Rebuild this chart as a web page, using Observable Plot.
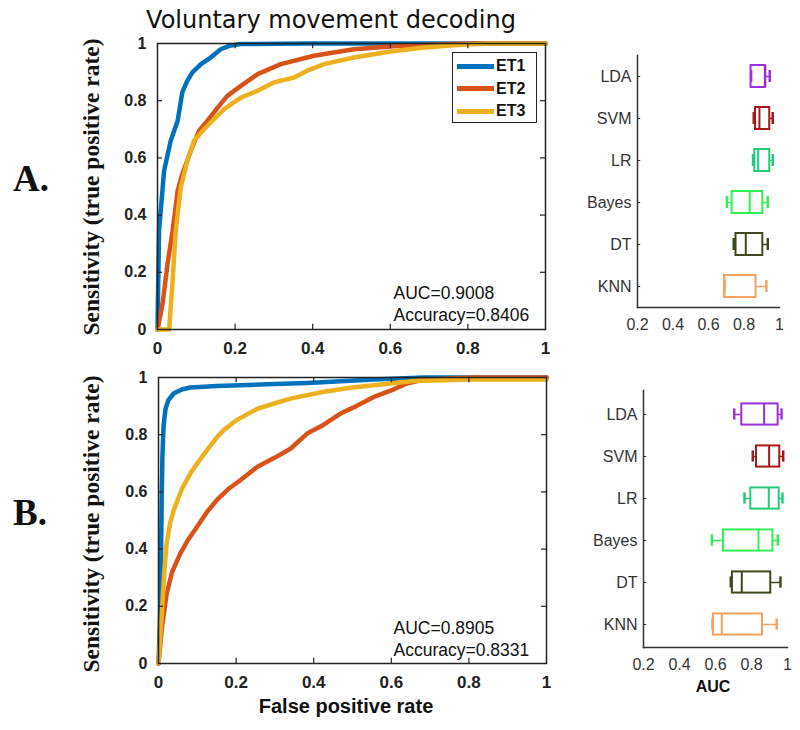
<!DOCTYPE html>
<html><head><meta charset="utf-8">
<script src="https://cdn.jsdelivr.net/npm/d3@7"></script>
<script src="https://cdn.jsdelivr.net/npm/@observablehq/plot@0.6"></script>
<style>
body{margin:0;background:#fff;}
#fig{position:relative;width:800px;height:730px;overflow:hidden;background:#fff;font-family:"Liberation Sans",Arial,sans-serif;color:#111;}
.pl{position:absolute;}
.t{position:absolute;white-space:nowrap;line-height:1;}
</style></head><body><div id="fig"></div>
<script>
// ---------- data ----------
const series = ["ET1", "ET2", "ET3"];
const seriesColors = ["#0072BD", "#D95319", "#EDB120"];
const rocTicks = [0, 0.2, 0.4, 0.6, 0.8, 1];
const aucTicks = [0.2, 0.4, 0.6, 0.8, 1];

// Panel A ROC curves [false positive rate, true positive rate]
const aET1 = [[0,0],[0.004,0.346],[0.017,0.555],[0.034,0.66],[0.043,0.695],[0.052,0.73],[0.058,0.78],[0.064,0.83],[0.077,0.87],[0.09,0.899],[0.112,0.928],[0.137,0.951],[0.163,0.98],[0.185,0.992],[0.215,0.998],[0.386,1],[1,1]];
const aET2 = [[0,0],[0.013,0.09],[0.026,0.23],[0.039,0.346],[0.052,0.485],[0.064,0.544],[0.086,0.625],[0.107,0.695],[0.129,0.73],[0.155,0.776],[0.18,0.817],[0.215,0.852],[0.258,0.893],[0.318,0.928],[0.403,0.957],[0.506,0.98],[0.609,0.99],[0.7,0.996],[0.815,1],[1,1]];
const aET3 = [[0,0],[0.03,0],[0.039,0.171],[0.047,0.346],[0.06,0.497],[0.077,0.59],[0.094,0.66],[0.12,0.70],[0.146,0.736],[0.172,0.771],[0.215,0.811],[0.258,0.835],[0.3,0.864],[0.352,0.881],[0.386,0.905],[0.429,0.928],[0.506,0.951],[0.601,0.972],[0.687,0.986],[0.773,0.995],[0.858,1],[1,1]];
// Panel B ROC curves
const bET1 = [[0,0],[0.004,0.15],[0.006,0.3],[0.008,0.55],[0.01,0.72],[0.013,0.83],[0.018,0.89],[0.025,0.92],[0.039,0.944],[0.06,0.958],[0.082,0.965],[0.15,0.97],[0.21,0.973],[0.3,0.977],[0.383,0.981],[0.47,0.987],[0.555,0.993],[0.684,1],[1,1]];
const bET2 = [[0,0],[0.005,0.07],[0.009,0.127],[0.021,0.244],[0.035,0.32],[0.056,0.384],[0.075,0.43],[0.099,0.477],[0.125,0.53],[0.15,0.571],[0.18,0.61],[0.21,0.64],[0.254,0.687],[0.3,0.72],[0.34,0.751],[0.383,0.804],[0.42,0.83],[0.469,0.874],[0.51,0.9],[0.555,0.932],[0.6,0.955],[0.64,0.979],[0.684,0.993],[0.813,1],[1,1]];
const bET3 = [[0,0],[0.005,0.1],[0.009,0.186],[0.015,0.32],[0.021,0.42],[0.03,0.49],[0.039,0.535],[0.06,0.61],[0.082,0.664],[0.1,0.7],[0.125,0.746],[0.15,0.79],[0.168,0.816],[0.2,0.85],[0.254,0.89],[0.3,0.91],[0.34,0.926],[0.426,0.95],[0.5,0.965],[0.555,0.973],[0.658,0.988],[0.813,0.993],[1,0.993]];

const aAUC = "0.9008", aAcc = "0.8406";
const bAUC = "0.8905", bAcc = "0.8331";

// Classifier AUC box plots
const classifiers = ["LDA", "SVM", "LR", "Bayes", "DT", "KNN"];
const boxColors = ["#9b30d9", "#a31818", "#22cc77", "#33ee55", "#3c4a1c", "#f4a460"];
const aMin = [0.84, 0.855, 0.851, 0.704, 0.742, 0.69];
const aQ1  = [0.84, 0.865, 0.861, 0.733, 0.755, 0.69];
const aMed = [0.92, 0.887, 0.88, 0.832, 0.81, 0.69];
const aQ3  = [0.92, 0.945, 0.945, 0.906, 0.906, 0.868];
const aMax = [0.945, 0.962, 0.962, 0.934, 0.934, 0.926];
const bMin = [0.704, 0.807, 0.761, 0.580, 0.685, 0.583];
const bQ1  = [0.746, 0.828, 0.796, 0.644, 0.694, 0.589];
const bMed = [0.870, 0.898, 0.896, 0.839, 0.746, 0.635];
const bQ3  = [0.948, 0.957, 0.954, 0.919, 0.907, 0.861];
const bMax = [0.967, 0.976, 0.972, 0.946, 0.961, 0.94];

// ---------- helpers ----------
const fig = document.getElementById("fig");
const fmt = d => String(+(+d).toFixed(1));
const inner = rocTicks.slice(1, -1);

function rocRows(curves) {
  return curves.flatMap((pts, i) => pts.map(([fpr, tpr]) => ({series: series[i], fpr, tpr})));
}
function boxRows(mins, q1s, meds, q3s, maxs) {
  return classifiers.map((name, i) => ({name, min: mins[i], q1: q1s[i], med: meds[i], q3: q3s[i], max: maxs[i]}));
}
function place(el, left, top) {
  const d = document.createElement("div");
  d.className = "pl"; d.style.left = left + "px"; d.style.top = top + "px";
  d.appendChild(el); fig.appendChild(d); return d;
}
function label(text, o) {
  const d = document.createElement("div");
  d.className = "t"; d.textContent = text;
  d.style.fontFamily = o.family || '"Liberation Sans", Arial, sans-serif';
  d.style.fontSize = o.size + "px";
  d.style.fontWeight = o.weight || "normal";
  d.style.top = (o.baseline - (o.asc || 0.846) * o.size) + "px";
  d.style.left = o.x + "px";
  if (o.anchor === "middle") d.style.transform = "translateX(-50%)";
  fig.appendChild(d); return d;
}
function vlabel(text, cx, cy, size) {
  const d = document.createElement("div");
  d.className = "t"; d.textContent = text;
  d.style.fontFamily = '"Liberation Serif", "Times New Roman", serif';
  d.style.fontWeight = "bold"; d.style.fontSize = size + "px";
  d.style.left = cx + "px"; d.style.top = cy + "px";
  d.style.transform = "translate(-50%,-50%) rotate(-90deg)";
  fig.appendChild(d);
}

function rocChart(curves, o) {
  const rows = rocRows(curves);
  return Plot.plot({
    width: 560, height: o.height,
    marginLeft: o.mL, marginRight: o.mR, marginTop: o.mT, marginBottom: o.height - o.bottom,
    x: {domain: [0, 1]}, y: {domain: [0, 1]},
    color: {domain: series, range: seriesColors},
    style: {background: "transparent", fontFamily: '"Liberation Sans", Arial, sans-serif', color: "#222", overflow: "visible"},
    marks: [
      Plot.line(rows, {x: "fpr", y: "tpr", z: "series", stroke: "series", strokeWidth: 4.5, strokeLinejoin: "round"}),
      Plot.frame({stroke: "#222", strokeWidth: 1.5}),
      Plot.ruleY(inner, {y: d => d, x1: 0, x2: 0.013, stroke: "#222", strokeWidth: 1.2}),
      Plot.ruleY(inner, {y: d => d, x1: 0.987, x2: 1, stroke: "#222", strokeWidth: 1.2}),
      Plot.ruleX(inner, {x: d => d, y1: 0, y2: 0.018, stroke: "#222", strokeWidth: 1.2}),
      Plot.ruleX(inner, {x: d => d, y1: 0.982, y2: 1, stroke: "#222", strokeWidth: 1.2}),
      Plot.text([`AUC=${o.auc}\nAccuracy=${o.acc}`], {text: d => d, frameAnchor: "bottom-left", dx: o.noteDx, dy: o.noteDy,
        textAnchor: "start", lineAnchor: "bottom", lineHeight: 1.25, fontSize: 17.5, fill: "#111"}),
      Plot.axisX({ticks: rocTicks, tickSize: 0, tickPadding: 12, tickFormat: fmt, fontSize: 17, fontWeight: "bold", label: null}),
      Plot.axisY({ticks: rocTicks, tickSize: 0, tickPadding: 11, tickFormat: fmt, fontSize: 16, fontWeight: "bold", label: null})
    ]
  });
}

function boxChart(rows, o) {
  const bw = (o.bottom - o.mT) / classifiers.length;
  const ins = (bw - 22) / 2, capIns = (bw - 12) / 2;
  return Plot.plot({
    width: 240, height: o.height,
    marginLeft: o.mL, marginRight: o.mR, marginTop: o.mT, marginBottom: o.height - o.bottom,
    x: {domain: [0.2, 1]}, y: {domain: classifiers, padding: 0},
    color: {domain: classifiers, range: boxColors},
    style: {background: "transparent", fontFamily: '"Liberation Sans", Arial, sans-serif', color: "#222", overflow: "visible"},
    marks: [
      Plot.ruleY(rows, {y: "name", x1: "min", x2: "q1", stroke: "name", strokeWidth: 1.5}),
      Plot.ruleY(rows, {y: "name", x1: "q3", x2: "max", stroke: "name", strokeWidth: 1.5}),
      Plot.barX(rows, {y: "name", x1: "q1", x2: "q3", fill: "none", stroke: "name", strokeWidth: 2, insetTop: ins, insetBottom: ins}),
      Plot.tickX(rows, {y: "name", x: "med", stroke: "name", strokeWidth: 2, insetTop: ins, insetBottom: ins}),
      Plot.tickX(rows, {y: "name", x: "min", stroke: "name", strokeWidth: 2.5, insetTop: capIns, insetBottom: capIns}),
      Plot.tickX(rows, {y: "name", x: "max", stroke: "name", strokeWidth: 2.5, insetTop: capIns, insetBottom: capIns}),
      Plot.frame({anchor: "left", stroke: "#333", strokeWidth: 1.5}),
      Plot.frame({anchor: "bottom", stroke: "#333", strokeWidth: 1.5}),
      Plot.ruleY(classifiers, {y: d => d, x1: 0.2, x2: 0.218, stroke: "#333"}),
      Plot.ruleX(aucTicks.slice(1, -1), {x: d => d, y: () => classifiers[classifiers.length - 1], insetTop: bw - 4, stroke: "#333"}),
      Plot.axisX({ticks: aucTicks, tickSize: 0, tickPadding: 11, tickFormat: fmt, fontSize: 16, fill: "#333", label: null}),
      Plot.axisY({tickSize: 0, tickPadding: 6, fontSize: 16, fill: "#333", label: null})
    ]
  });
}

// ---------- charts ----------
place(rocChart([aET1, aET2, aET3], {height: 360, mL: 157, mR: 15, mT: 43, bottom: 329, auc: aAUC, acc: aAcc, noteDx: 236, noteDy: -9}), 0, 0);
place(rocChart([bET1, bET2, bET3], {height: 340, mL: 158, mR: 14, mT: 17, bottom: 303, auc: bAUC, acc: bAcc, noteDx: 235, noteDy: -8}), 0, 360);
place(boxChart(boxRows(aMin, aQ1, aMed, aQ3, aMax), {height: 345, mL: 77, mR: 21, mT: 55, bottom: 307}), 560, 0);
place(boxChart(boxRows(bMin, bQ1, bMed, bQ3, bMax), {height: 340, mL: 83, mR: 13, mT: 30, bottom: 287}), 560, 360);

// legend (panel A)
const lg = document.createElement("div");
lg.style.cssText = "position:absolute;left:452px;top:52px;width:83px;height:69px;border:1.5px solid #222;background:#fff;";
series.forEach((s, i) => {
  const row = document.createElement("div");
  row.style.cssText = `position:absolute;left:4px;top:${4 + i * 22.5}px;height:18px;display:flex;align-items:center;`;
  const sw = document.createElement("div");
  sw.style.cssText = `width:37px;height:5px;background:${seriesColors[i]};margin-right:2px;`;
  const tx = document.createElement("span");
  tx.textContent = s;
  tx.style.cssText = 'font:bold 16px "Liberation Sans",Arial,sans-serif;color:#111;';
  row.appendChild(sw); row.appendChild(tx); lg.appendChild(row);
});
fig.appendChild(lg);

// titles and labels
label("Voluntary movement decoding", {x: 331, baseline: 28, size: 24, family: '"DejaVu Sans", sans-serif', anchor: "middle"});
label("A.", {x: 13, baseline: 191, size: 37, weight: "bold", family: '"Liberation Serif", "Times New Roman", serif', asc: 0.8375});
label("B.", {x: 13, baseline: 525, size: 37, weight: "bold", family: '"Liberation Serif", "Times New Roman", serif', asc: 0.8375});
vlabel("Sensitivity (true positive rate)", 92, 187, 23.5);
vlabel("Sensitivity (true positive rate)", 92, 524, 23.5);
label("False positive rate", {x: 346, baseline: 713, size: 20, weight: "bold", anchor: "middle"});
label("AUC", {x: 713, baseline: 693, size: 16, weight: "bold", anchor: "middle"});
</script></body></html>
